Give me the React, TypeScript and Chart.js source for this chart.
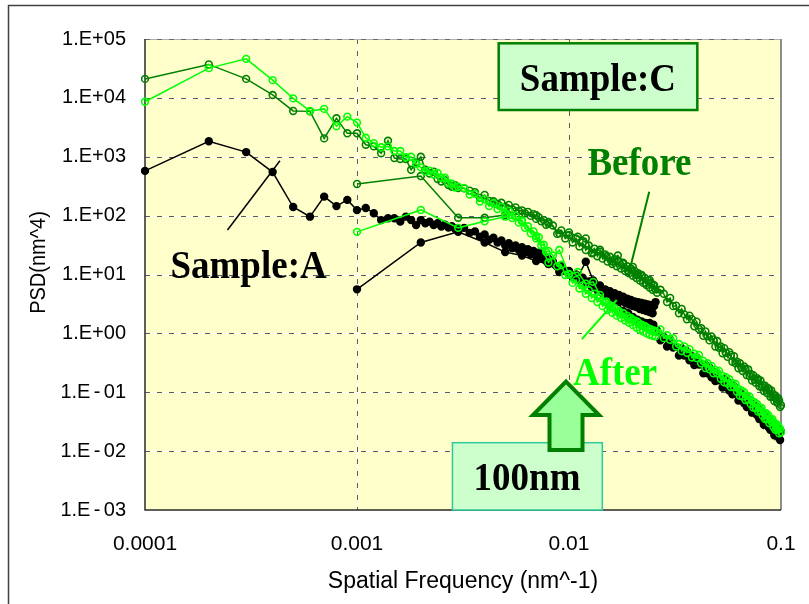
import React, { useEffect, useRef } from 'react';
import { Chart, registerables } from 'chart.js';

Chart.register(...registerables);

// ---------- axes ----------
const X_MIN = 0.0001;
const X_MAX = 0.1;
const Y_MIN = 0.001;
const Y_MAX = 100000;
const X_TICKS = [0.0001, 0.001, 0.01, 0.1];
const X_TICK_LABELS = ['0.0001', '0.001', '0.01', '0.1'];
const Y_TICKS = [100000, 10000, 1000, 100, 10, 1, 0.1, 0.01, 0.001];
const Y_TICK_LABELS = [
  '1.E+05', '1.E+04', '1.E+03', '1.E+02', '1.E+01', '1.E+00',
  '1.E\u2006-\u200601', '1.E\u2006-\u200602', '1.E\u2006-\u200603',
];
const X_TITLE = 'Spatial Frequency (nm^-1)';
const Y_TITLE = 'PSD(nm^4)';

// ---------- spatial frequencies (nm^-1) ----------
const FREQ_WIDE = [
  0.0001, 0.0002, 0.0003, 0.0004, 0.0005, 0.0006, 0.0007, 0.0008, 0.0009, 0.001,
  0.0011, 0.0012, 0.0013, 0.0014, 0.0015, 0.0016, 0.0017, 0.0018, 0.0019, 0.002,
  0.0021, 0.0022, 0.0023, 0.0024, 0.0025, 0.0026, 0.0027, 0.0028, 0.0029, 0.003,
  0.0032, 0.0034, 0.0036, 0.0038, 0.004, 0.0042, 0.0044, 0.0046, 0.0048, 0.005,
  0.0052, 0.0054, 0.0056, 0.0058, 0.006, 0.0062, 0.0064, 0.0066, 0.0068, 0.007,
  0.0072, 0.0074, 0.0076, 0.0078, 0.008,
  0.0084, 0.0088, 0.0092, 0.0096, 0.01, 0.0104, 0.0108, 0.0112, 0.0116, 0.012,
  0.0124, 0.0128, 0.0132, 0.0136, 0.014, 0.0144, 0.0148, 0.0152, 0.0156, 0.016,
  0.0164, 0.0168, 0.0172, 0.0176, 0.018, 0.0184, 0.0188, 0.0192, 0.0196, 0.02,
  0.0204, 0.0208, 0.0212, 0.0216, 0.022, 0.0224, 0.0228, 0.0232, 0.0236, 0.024,
  0.0244, 0.0248, 0.0252, 0.0256,
];
const FREQ_NARROW = [
  0.001, 0.002, 0.003, 0.004, 0.005, 0.006, 0.007, 0.008, 0.009, 0.01,
  0.011, 0.012, 0.013, 0.014, 0.015, 0.016, 0.017, 0.018, 0.019, 0.02,
  0.021, 0.022, 0.023, 0.024, 0.025, 0.026, 0.027, 0.028, 0.029, 0.03,
  0.031, 0.032, 0.033, 0.034, 0.035, 0.036, 0.037, 0.038, 0.039, 0.04,
  0.041, 0.042, 0.043, 0.044, 0.045, 0.046, 0.047, 0.048, 0.049, 0.05,
  0.051, 0.052, 0.053, 0.054, 0.055, 0.056, 0.057, 0.058, 0.059, 0.06,
  0.061, 0.062, 0.063, 0.064, 0.065, 0.066, 0.067, 0.068, 0.069, 0.07,
  0.071, 0.072, 0.073, 0.074, 0.075, 0.076, 0.077, 0.078, 0.079, 0.08,
  0.081, 0.082, 0.083, 0.084, 0.085, 0.086, 0.087, 0.088, 0.089, 0.09,
  0.091, 0.092, 0.093, 0.094, 0.095, 0.096, 0.097, 0.098, 0.099, 0.1,
];

// ---------- PSD values (nm^4) ----------
const A_WIDE = [
  575, 1830, 1200, 550, 140, 96, 210, 145, 185, 124, 135, 110, 84, 90, 90,
  79, 96, 84, 69, 84, 74, 79, 69, 74, 65, 70, 63, 66, 60, 61,
  62, 51, 54, 44, 48, 39, 42, 35, 38, 31, 34, 28, 31, 26, 29, 24, 27, 22, 25, 21, 23.5, 19, 21, 17, 18.5,
  16.5, 13.5, 14, 11.5, 11.5, 9.0, 10.0, 8.0, 8.8, 7.0, 7.6, 6.1, 7.1, 5.4, 6.2, 4.8, 5.6, 4.4, 5.2, 4.0,
  4.8, 3.8, 4.5, 3.5, 4.2, 3.3, 3.9, 3.1, 3.7, 2.9, 3.5, 2.8, 3.4, 2.6, 3.3, 2.5, 3.2, 2.4, 3.1, 2.3,
  3.0, 2.2, 2.9, 3.4,
];
const A_NARROW = [
  5.6, 35, 53, 35, 24, 21, 17, 15, 11, 10, 9, 16.5, 7.9, 6.5, 5.2, 4.2, 3.4, 2.4, 2.2, 1.9,
  1.7, 1.6, 1.5, 1.5, 1.4, 1.12, 0.76, 0.87, 0.6, 0.79, 0.575, 0.59, 0.42, 0.56, 0.42, 0.5, 0.35, 0.41, 0.29, 0.39,
  0.295, 0.3, 0.21, 0.29, 0.21, 0.26, 0.18, 0.22, 0.155, 0.21, 0.16, 0.166, 0.12, 0.166, 0.124, 0.151, 0.107, 0.129, 0.092, 0.126,
  0.095, 0.1, 0.072, 0.098, 0.074, 0.091, 0.065, 0.078, 0.056, 0.078, 0.059, 0.062, 0.045, 0.062, 0.047, 0.058, 0.041, 0.049, 0.035, 0.049,
  0.037, 0.039, 0.028, 0.04, 0.03, 0.037, 0.026, 0.032, 0.023, 0.032, 0.0245, 0.026, 0.0186, 0.026, 0.02, 0.0245, 0.0174, 0.0214, 0.0155, 0.0214,
];
const BEFORE_WIDE = [
  21000, 37000, 21000, 11200, 6000, 5900, 2050, 4500, 2500, 2500, 1600, 1500, 1150, 1870, 950,
  915, 915, 600, 800, 1000, 600, 520, 560, 420, 380, 400, 330, 310, 330, 295,
  290, 265, 250, 200, 225, 178, 175, 158, 165, 140, 152, 128, 138, 120, 123, 109, 116, 99, 106, 88, 94, 80, 84, 70, 73,
  68, 49, 56, 41, 47, 35, 41, 30, 35, 26, 31, 23, 27.5, 20.4, 24.5, 18.6, 21.9, 16.6, 20, 15.1,
  18.2, 13.8, 16.6, 12.6, 15.1, 11.5, 13.8, 10.5, 12.6, 9.5, 11.5, 8.7, 10.5, 7.9, 9.5, 7.2, 8.7, 6.6, 7.9, 6.0,
  7.2, 5.5, 6.6, 5.6,
];
const BEFORE_NARROW = [
  345, 470, 92, 92, 102, 108, 102, 78, 50, 52, 44, 41, 23.4, 26.3, 20.4, 16.6, 21, 15.8, 11.5, 13.5,
  9.8, 9.8, 7.1, 8.1, 6.5, 4.9, 5.5, 4.7, 3.4, 4.0, 2.9, 2.95, 2.2, 2.6, 2.1, 1.74, 2.0, 1.74, 1.32, 1.58,
  1.19, 1.23, 0.91, 1.08, 0.89, 0.76, 0.89, 0.79, 0.6, 0.74, 0.57, 0.6, 0.46, 0.56, 0.47, 0.4, 0.48, 0.43, 0.33, 0.41,
  0.31, 0.33, 0.256, 0.31, 0.263, 0.23, 0.275, 0.25, 0.195, 0.245, 0.19, 0.204, 0.158, 0.195, 0.166, 0.145, 0.174, 0.162, 0.126, 0.158,
  0.123, 0.132, 0.105, 0.129, 0.11, 0.097, 0.117, 0.107, 0.084, 0.107, 0.084, 0.091, 0.071, 0.088, 0.076, 0.066, 0.079, 0.072, 0.056, 0.06,
];
const AFTER_WIDE = [
  8600, 32000, 46000, 20000, 9800, 6000, 6500, 3300, 4800, 3800, 2100, 1700, 1450, 1500, 1250,
  1250, 980, 1000, 760, 660, 560, 580, 500, 530, 440, 440, 355, 350, 300, 310,
  295, 229, 234, 174, 190, 145, 162, 129, 141, 110, 120, 91, 100, 76, 83, 62, 66, 50, 54, 41, 43, 31, 32, 24, 25,
  21, 13.8, 14.5, 9.8, 10.2, 7.2, 8.1, 5.8, 6.5, 4.7, 5.4, 4.0, 4.7, 3.4, 4.0, 2.9, 3.4, 2.5, 3.0, 2.24,
  2.7, 2.0, 2.4, 1.82, 2.2, 1.66, 2.0, 1.51, 1.82, 1.38, 1.66, 1.26, 1.51, 1.15, 1.41, 1.07, 1.32, 1.0, 1.23, 0.95,
  1.17, 0.91, 1.12, 0.89,
];
const AFTER_NARROW = [
  53, 125, 62, 80, 96, 80, 45, 16, 26, 10, 11, 7, 7.5, 4.5, 3.5, 2.9, 2.3, 2.2, 1.8, 1.7,
  1.6, 1.35, 1.3, 1.15, 1.07, 1.05, 1.17, 0.83, 0.93, 0.78, 0.83, 0.6, 0.66, 0.5, 0.6, 0.47, 0.54, 0.39, 0.45, 0.38,
  0.43, 0.31, 0.34, 0.257, 0.31, 0.245, 0.28, 0.21, 0.24, 0.21, 0.23, 0.17, 0.19, 0.148, 0.18, 0.141, 0.166, 0.123, 0.143, 0.123,
  0.138, 0.102, 0.114, 0.087, 0.107, 0.085, 0.1, 0.074, 0.087, 0.076, 0.085, 0.063, 0.071, 0.055, 0.068, 0.054, 0.063, 0.047, 0.055, 0.048,
  0.054, 0.04, 0.045, 0.035, 0.044, 0.035, 0.041, 0.03, 0.036, 0.032, 0.035, 0.026, 0.03, 0.023, 0.029, 0.023, 0.027, 0.02, 0.024, 0.021,
];

// ---------- annotation anchors (data coordinates) ----------
const NOTE_C_BOX = { x0: 0.00466, x1: 0.0403, y0: 84500, y1: 6220 };
const NOTE_C_TEXT = { text: 'Sample:C', x: 0.0137, y: 13100 };
const NOTE_BEFORE = { text: 'Before', x: 0.0215, y: 490 };
const NOTE_AFTER = { text: 'After', x: 0.0165, y: 0.133 };
const NOTE_A = { text: 'Sample:A', x: 0.000308, y: 8.7 };
const NOTE_100_BOX = { x0: 0.00282, x1: 0.01436, y0: 0.0139, y1: 0.001 };
const NOTE_100_TEXT = { text: '100nm', x: 0.00634, y: 0.00219 };
const LINE_BEFORE = [[0.0239, 255], [0.0194, 12.7]];
const LINE_AFTER = [[0.0115, 0.8], [0.0168, 3.69]];
const LINE_A = [[0.000245, 57], [0.000433, 857]];
const ARROW = { x: 0.00968, tip: 0.151, headBase: 0.0411, tail: 0.01045 };

const C_BLACK = '#000000';
const C_BEFORE = '#008000';
const C_AFTER = '#00ff00';
const PLOT_BG = '#ffffcc';
const SANS = '"Liberation Sans", Arial, sans-serif';
const SERIF = '"Liberation Serif", "Times New Roman", serif';

const pts = (xs: number[], ys: number[]) => xs.map((x, i) => ({ x, y: ys[i] }));

const series = (data: { x: number; y: number }[], color: string, filled: boolean) => ({
  data,
  showLine: true,
  borderColor: color,
  borderWidth: 1.5,
  pointRadius: 3.4,
  pointBorderWidth: 1.6,
  pointBorderColor: color,
  pointBackgroundColor: filled ? color : 'rgba(0,0,0,0)',
  pointStyle: 'circle',
  tension: 0,
  clip: 4,
});

const crisp = (v: number) => Math.round(v) + 0.5;

function stretchedText(ctx: CanvasRenderingContext2D, text: string, x: number, y: number, font: string, color: string, sy: number) {
  ctx.save();
  ctx.translate(x, y);
  ctx.scale(1, sy);
  ctx.font = font;
  ctx.fillStyle = color;
  ctx.textAlign = 'center';
  ctx.textBaseline = 'alphabetic';
  ctx.fillText(text, 0, 0);
  ctx.restore();
}

const decorPlugin = {
  id: 'psdDecor',
  beforeDraw(chart: any) {
    const { ctx, width, height } = chart;
    ctx.save();
    ctx.fillStyle = '#ffffff';
    ctx.fillRect(0, 0, width, height);
    ctx.restore();
  },
  beforeDatasetsDraw(chart: any) {
    const { ctx, chartArea: a } = chart;
    const xs = chart.scales.x;
    const ys = chart.scales.y;
    ctx.save();
    ctx.fillStyle = PLOT_BG;
    ctx.fillRect(a.left, a.top, a.right - a.left, a.bottom - a.top);
    const hLines = Y_TICKS.filter((v) => v > Y_MIN && v < Y_MAX).map((v) => crisp(ys.getPixelForValue(v)));
    const vLines = X_TICKS.filter((v) => v > X_MIN && v < X_MAX).map((v) => crisp(xs.getPixelForValue(v)));
    const gridPath = () => {
      ctx.beginPath();
      hLines.forEach((y: number) => { ctx.moveTo(a.left, y); ctx.lineTo(a.right, y); });
      vLines.forEach((x: number) => { ctx.moveTo(x, a.top); ctx.lineTo(x, a.bottom); });
    };
    ctx.lineWidth = 1;
    ctx.setLineDash([]);
    ctx.strokeStyle = '#ffffff';
    gridPath();
    ctx.stroke();
    ctx.strokeStyle = '#5c5c5c';
    ctx.setLineDash([5, 7]);
    gridPath();
    ctx.stroke();
    // top border
    ctx.setLineDash([]);
    ctx.strokeStyle = '#b0b0b0';
    ctx.beginPath();
    ctx.moveTo(a.left, crisp(a.top));
    ctx.lineTo(a.right, crisp(a.top));
    ctx.stroke();
    ctx.strokeStyle = '#6a6a6a';
    ctx.setLineDash([5, 7]);
    ctx.beginPath();
    ctx.moveTo(a.left, crisp(a.top));
    ctx.lineTo(a.right, crisp(a.top));
    ctx.stroke();
    // right border
    ctx.setLineDash([]);
    ctx.strokeStyle = '#8c8c8c';
    ctx.lineWidth = 2;
    ctx.beginPath();
    ctx.moveTo(a.right, a.top);
    ctx.lineTo(a.right, a.bottom);
    ctx.stroke();
    // left & bottom axes
    ctx.strokeStyle = '#2a2a2a';
    ctx.lineWidth = 1.5;
    ctx.beginPath();
    ctx.moveTo(a.left, a.top);
    ctx.lineTo(a.left, a.bottom);
    ctx.lineTo(a.right, a.bottom);
    ctx.stroke();
    ctx.restore();
  },
  afterDatasetsDraw(chart: any) {
    const { ctx } = chart;
    const xs = chart.scales.x;
    const ys = chart.scales.y;
    const X = (v: number) => xs.getPixelForValue(v);
    const Y = (v: number) => ys.getPixelForValue(v);
    ctx.save();
    ctx.setLineDash([]);
    const seg = (p: number[][], color: string, w: number) => {
      ctx.strokeStyle = color;
      ctx.lineWidth = w;
      ctx.beginPath();
      ctx.moveTo(X(p[0][0]), Y(p[0][1]));
      ctx.lineTo(X(p[1][0]), Y(p[1][1]));
      ctx.stroke();
    };
    seg(LINE_BEFORE, C_BEFORE, 2);
    seg(LINE_AFTER, C_AFTER, 2);
    seg(LINE_A, C_BLACK, 1.5);

    const bold = `bold 37px ${SERIF}`;
    // Sample:C box
    const cx0 = X(NOTE_C_BOX.x0), cx1 = X(NOTE_C_BOX.x1), cy0 = Y(NOTE_C_BOX.y0), cy1 = Y(NOTE_C_BOX.y1);
    ctx.fillStyle = '#ccffcc';
    ctx.fillRect(cx0, cy0, cx1 - cx0, cy1 - cy0);
    ctx.strokeStyle = C_BEFORE;
    ctx.lineWidth = 2.5;
    ctx.strokeRect(cx0, cy0, cx1 - cx0, cy1 - cy0);
    stretchedText(ctx, NOTE_C_TEXT.text, X(NOTE_C_TEXT.x), Y(NOTE_C_TEXT.y), bold, C_BLACK, 1.1);

    stretchedText(ctx, NOTE_BEFORE.text, X(NOTE_BEFORE.x), Y(NOTE_BEFORE.y), bold, C_BEFORE, 1.08);
    stretchedText(ctx, NOTE_AFTER.text, X(NOTE_AFTER.x), Y(NOTE_AFTER.y), bold, C_AFTER, 1.08);
    stretchedText(ctx, NOTE_A.text, X(NOTE_A.x), Y(NOTE_A.y), bold, C_BLACK, 1.08);

    // 100nm box
    const bx0 = X(NOTE_100_BOX.x0), bx1 = X(NOTE_100_BOX.x1), by0 = Y(NOTE_100_BOX.y0), by1 = Y(NOTE_100_BOX.y1);
    ctx.fillStyle = '#ccffcc';
    ctx.fillRect(bx0, by0, bx1 - bx0, by1 - by0);
    ctx.strokeStyle = '#2ec89c';
    ctx.lineWidth = 1.5;
    ctx.strokeRect(bx0, by0, bx1 - bx0, by1 - by0);
    stretchedText(ctx, NOTE_100_TEXT.text, X(NOTE_100_TEXT.x), Y(NOTE_100_TEXT.y), bold, C_BLACK, 1.1);

    // up arrow
    const ax = X(ARROW.x), at = Y(ARROW.tip), ab = Y(ARROW.headBase), ae = Y(ARROW.tail);
    const head = 33, shaft = 16.5;
    ctx.beginPath();
    ctx.moveTo(ax, at);
    ctx.lineTo(ax + head, ab);
    ctx.lineTo(ax + shaft, ab);
    ctx.lineTo(ax + shaft, ae);
    ctx.lineTo(ax - shaft, ae);
    ctx.lineTo(ax - shaft, ab);
    ctx.lineTo(ax - head, ab);
    ctx.closePath();
    ctx.fillStyle = '#99ff99';
    ctx.fill();
    ctx.strokeStyle = C_BEFORE;
    ctx.lineWidth = 4;
    ctx.lineJoin = 'miter';
    ctx.stroke();
    ctx.restore();
  },
  afterDraw(chart: any) {
    const { ctx, chartArea: a } = chart;
    ctx.save();
    // outer frame
    ctx.strokeStyle = '#404040';
    ctx.lineWidth = 1.5;
    ctx.strokeRect(8.5, 5.5, 900, 700);
    // axis titles
    ctx.fillStyle = '#000';
    ctx.font = `23px ${SANS}`;
    ctx.textAlign = 'center';
    ctx.textBaseline = 'alphabetic';
    ctx.fillText(X_TITLE, (a.left + a.right) / 2, a.bottom + 78);
    ctx.save();
    ctx.translate(45, (a.top + a.bottom) / 2 - 12);
    ctx.rotate(-Math.PI / 2);
    ctx.scale(1, 1.1);
    ctx.font = `20px ${SANS}`;
    ctx.fillText(Y_TITLE, 0, 0);
    ctx.restore();
    ctx.restore();
  },
};

export default function App() {
  const ref = useRef<HTMLCanvasElement>(null);
  useEffect(() => {
    document.body.style.margin = '0';
    const canvas = ref.current;
    if (!canvas) return;
    const chart = new Chart(canvas, {
      type: 'scatter',
      data: {
        datasets: [
          series(pts(FREQ_NARROW, AFTER_NARROW), C_AFTER, false),
          series(pts(FREQ_WIDE, AFTER_WIDE), C_AFTER, false),
          series(pts(FREQ_NARROW, BEFORE_NARROW), C_BEFORE, false),
          series(pts(FREQ_WIDE, BEFORE_WIDE), C_BEFORE, false),
          series(pts(FREQ_NARROW, A_NARROW), C_BLACK, true),
          series(pts(FREQ_WIDE, A_WIDE), C_BLACK, true),
        ] as any,
      },
      options: {
        animation: false,
        responsive: false,
        events: [],
        layout: { padding: { top: 39, right: 28, left: 0, bottom: 0 } },
        plugins: { legend: { display: false }, tooltip: { enabled: false } },
        scales: {
          x: {
            type: 'logarithmic',
            min: X_MIN,
            max: X_MAX,
            afterBuildTicks: (s: any) => { s.ticks = X_TICKS.map((value) => ({ value })); },
            afterFit: (s: any) => { s.height = 94; s.paddingLeft = 0; s.paddingRight = 0; },
            grid: { display: false, drawTicks: false },
            border: { display: false },
            ticks: {
              autoSkip: false,
              maxRotation: 0,
              padding: 22,
              color: '#000',
              font: { family: SANS, size: 21 },
              callback: (_v: any, i: number) => X_TICK_LABELS[i],
            },
          },
          y: {
            type: 'logarithmic',
            min: Y_MIN,
            max: Y_MAX,
            afterBuildTicks: (s: any) => { s.ticks = Y_TICKS.map((value) => ({ value })); },
            afterFit: (s: any) => { s.width = 145; },
            grid: { display: false, drawTicks: false },
            border: { display: false },
            ticks: {
              autoSkip: false,
              padding: 19,
              color: '#000',
              font: { family: SANS, size: 20 },
              callback: (_v: any, i: number) => Y_TICK_LABELS[i],
            },
          },
        },
      } as any,
      plugins: [decorPlugin],
    });
    return () => chart.destroy();
  }, []);
  return (
    <div style={{ width: 809, height: 604 }}>
      <canvas ref={ref} width={809} height={604} style={{ display: 'block', width: 809, height: 604 }} />
    </div>
  );
}
